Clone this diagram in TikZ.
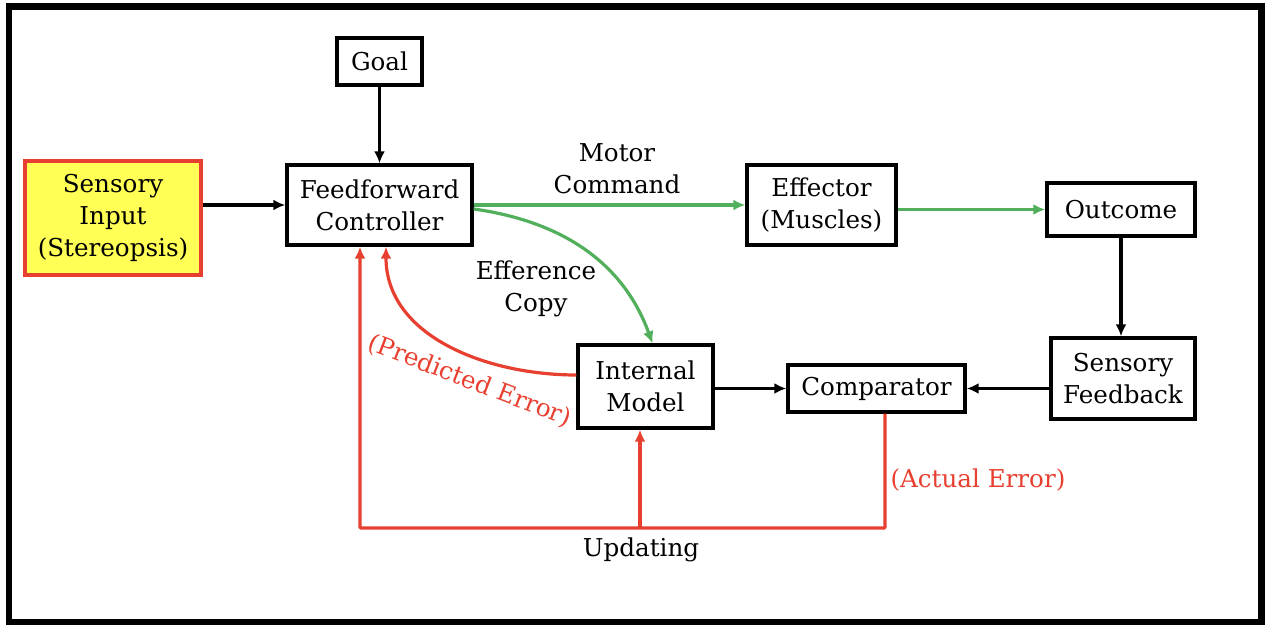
\documentclass[tikz,border=0pt]{standalone}
\usepackage{fontspec}
\setmainfont{DejaVu Serif}
\usetikzlibrary{arrows.meta,positioning}
\definecolor{errred}{RGB}{232,64,48}
\definecolor{cmdgreen}{RGB}{82,176,92}
\definecolor{inyellow}{RGB}{255,255,85}

\begin{document}
\begin{tikzpicture}[
  x=0.5pt, y=-0.5pt,
  box/.style={draw, line width=1.7pt, inner sep=0pt, align=center, font=\fontsize{12.3}{16}\selectfont},
  lbl/.style={align=center, inner sep=0pt, font=\fontsize{12.3}{16}\selectfont},
  flow/.style={-{Latex[length=6pt,width=5.5pt]}, line width=1.6pt},
  cmd/.style={flow, cmdgreen},
  err/.style={flow, errred}
]
\useasboundingbox (0,0) rectangle (1265,625);
\draw[line width=3.4pt] (9,6.5) rectangle (1261.5,622.5);

% blocks
\node[box, draw=errred, fill=inyellow, minimum width=88pt, minimum height=57pt] (input) at (113,218) {Sensory\\Input\\(Stereopsis)};
\node[box, minimum width=42.5pt, minimum height=23.5pt] (goal) at (379.5,61.5) {Goal};
\node[box, minimum width=92.5pt, minimum height=40pt] (ffc) at (379.5,205) {Feedforward\\Controller};
\node[box, minimum width=74.5pt, minimum height=40pt] (effector) at (821.5,205) {Effector\\(Muscles)};
\node[box, minimum width=74pt, minimum height=26.5pt] (outcome) at (1121,209.5) {Outcome};
\node[box, minimum width=72pt, minimum height=40.5pt] (feedback) at (1123,378.5) {Sensory\\Feedback};
\node[box, minimum width=88.5pt, minimum height=23.5pt] (comparator) at (876.5,388.5) {Comparator};
\node[box, minimum width=67.5pt, minimum height=41.5pt] (model) at (645.5,386.5) {Internal\\Model};
\coordinate (upd) at (640,528);

% black arrows
\draw[flow] (input.east |- ffc) -- (ffc.west);
\draw[flow] (goal) -- (ffc);
\draw[flow] (outcome.south) -- (outcome.south |- feedback.north);
\draw[flow] (feedback.west |- comparator) -- (comparator.east);
\draw[flow] (model.east |- comparator) -- (comparator.west);

% green arrows
\draw[cmd] (ffc.east) -- (effector.west);
\draw[cmd] (effector.east |- outcome) -- (outcome.west);
\draw[cmd] ([yshift=-2pt]ffc.east) to[out=-8, in=110] ([xshift=3.5pt]model.north);

% red loops
\draw[err] ([yshift=5.75pt]model.west) to[out=180, in=-90] ([xshift=3.25pt]ffc.south);
\draw[err, rounded corners=0.5pt] ([xshift=4.25pt]comparator.south) |- (upd) -| ([xshift=-9.75pt]ffc.south);
\draw[err] (upd) -- (upd |- model.south);

% labels
\node[lbl] (mclbl) at (617,169) {Motor\\Command};
\node[lbl] (eclbl) at (536,289) {Efference\\Copy};
\node[lbl, text=errred, rotate=-21] (pelbl) at (470,381) {(Predicted Error)};
\node[lbl, text=errred] (aelbl) at (978,480) {(Actual Error)};
\node[lbl] (uplbl) at (641,550) {Updating};
\end{tikzpicture}
\end{document}
